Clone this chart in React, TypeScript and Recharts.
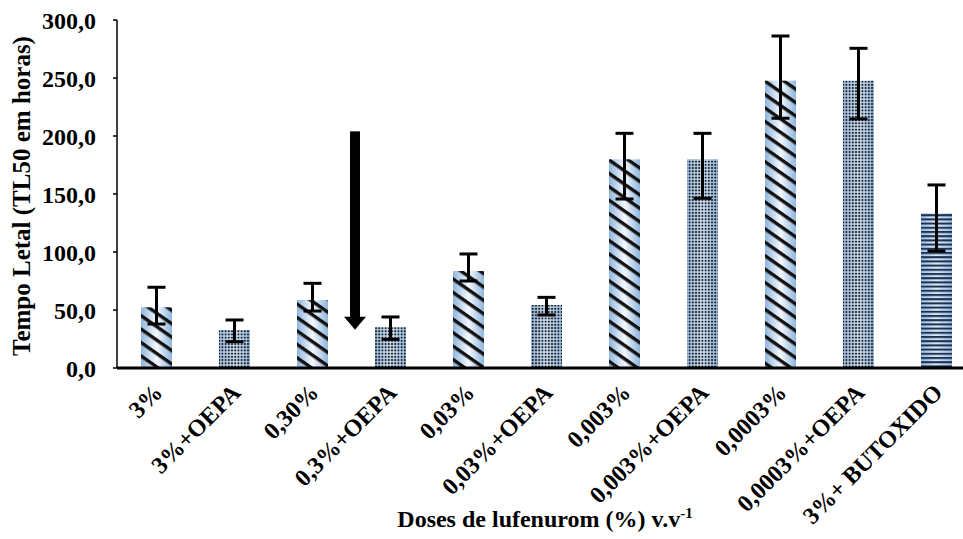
import {
  BarChart,
  Bar,
  XAxis,
  YAxis,
  ErrorBar,
  ReferenceLine,
} from "recharts";

// TL50 per dose, with lower / upper limits of the error bars
const doses = [
  "3%",
  "3%+OEPA",
  "0,30%",
  "0,3%+OEPA",
  "0,03%",
  "0,03%+OEPA",
  "0,003%",
  "0,003%+OEPA",
  "0,0003%",
  "0,0003%+OEPA",
  "3%+ BUTOXIDO",
];
const tl50 = [52.3, 32.8, 58.6, 35.1, 83.6, 54.3, 179.9, 179.9, 247.7, 247.7, 133.4];
const lower = [37.9, 22.7, 49.1, 24.7, 75.0, 45.7, 145.7, 146.3, 215.3, 214.7, 100.9];
const upper = [69.6, 41.4, 73.0, 44.0, 98.3, 60.9, 202.3, 202.3, 286.2, 275.6, 157.8];
const yTicks = [0, 50, 100, 150, 200, 250, 300];

// arrow annotation: drawn at the end of the "0,30%" band, from 204 down to 33 h
const arrowAfter = doses[2];
const arrowFrom = 204;
const arrowTo = 33;

// texture of each bar
const texture = [
  "stripe", "dot", "stripe", "dot", "stripe", "dot",
  "stripe", "dot", "stripe", "dot", "hline",
];

const data = doses.map((dose, i) => ({
  dose,
  tl50: tl50[i],
  err: [tl50[i] - lower[i], upper[i] - tl50[i]],
}));

const FONT = '"Liberation Serif", "Times New Roman", "DejaVu Serif", serif';
const txt = { fontFamily: FONT, fontWeight: 700 };

function TexturedBar(props: any) {
  const { x, y, width, height, index } = props;
  const kind = texture[index];
  const bg = kind === "stripe" ? "url(#bgStripe)" : kind === "dot" ? "url(#bgDot)" : "url(#bgLine)";
  return (
    <g>
      <rect x={x} y={y} width={width} height={height} fill={bg} />
      <rect x={x} y={y} width={width} height={height} fill={`url(#${kind})`} />
    </g>
  );
}

function DoseTick(props: any) {
  const { x, y, payload } = props;
  const ax = x + 8;
  const ay = y + 26;
  return (
    <text
      x={ax}
      y={ay}
      transform={`rotate(-45, ${ax}, ${ay})`}
      textAnchor="end"
      style={txt}
      fontSize={24}
      fill="#000"
    >
      {payload.value}
    </text>
  );
}

function Arrow(props: any) {
  const { x1, y1, y2 } = props;
  const cx = x1 + 4;
  const headBase = y2 - 13;
  return (
    <g>
      <rect x={cx - 5} y={y1} width={10} height={headBase - y1 + 1} fill="#000" />
      <polygon
        points={`${cx - 11},${headBase} ${cx + 11},${headBase} ${cx},${y2}`}
        fill="#000"
      />
    </g>
  );
}

export default function App() {
  return (
    <div
      style={{
        position: "absolute",
        left: 0,
        top: 0,
        width: 963,
        height: 539,
        overflow: "hidden",
        background: "#fff",
        fontFamily: FONT,
      }}
    >
      <BarChart
        width={990}
        height={539}
        data={data}
        margin={{ top: 20, right: 15, bottom: 0, left: 0 }}
        barSize={31}
        style={{ fontFamily: FONT }}
      >
        <defs>
          <linearGradient id="bgStripe" x1="0" y1="0" x2="1" y2="0">
            <stop offset="0" stopColor="#8fb6de" />
            <stop offset="0.5" stopColor="#f4f8fd" />
            <stop offset="1" stopColor="#8fb6de" />
          </linearGradient>
          <linearGradient id="bgDot" x1="0" y1="0" x2="1" y2="0">
            <stop offset="0" stopColor="#a3c2e3" />
            <stop offset="0.5" stopColor="#d6e5f4" />
            <stop offset="1" stopColor="#a3c2e3" />
          </linearGradient>
          <linearGradient id="bgLine" x1="0" y1="0" x2="1" y2="0">
            <stop offset="0" stopColor="#9dbfe2" />
            <stop offset="0.5" stopColor="#dce8f5" />
            <stop offset="1" stopColor="#9dbfe2" />
          </linearGradient>
          <pattern
            id="stripe"
            patternUnits="userSpaceOnUse"
            width="11"
            height="11"
            patternTransform="rotate(35)"
          >
            <rect x="0" y="0" width="11" height="3.4" fill="#111" />
          </pattern>
          <pattern id="dot" patternUnits="userSpaceOnUse" width="3.2" height="3.2">
            <circle cx="1.6" cy="1.6" r="1.1" fill="#17202c" />
          </pattern>
          <pattern id="hline" patternUnits="userSpaceOnUse" width="4" height="4.2">
            <rect x="0" y="0" width="4" height="2" fill="#1c3152" />
          </pattern>
        </defs>
        <XAxis
          xAxisId="cat"
          dataKey="dose"
          interval={0}
          tickSize={0}
          tickMargin={0}
          tickLine={false}
          axisLine={{ stroke: "#000", strokeWidth: 3 }}
          height={171}
          tick={<DoseTick />}
          label={{
            content: (p: any) => {
              const vb = p.viewBox;
              return (
                <text
                  x={vb.x + 428}
                  y={vb.y + 159}
                  textAnchor="middle"
                  style={txt}
                  fontSize={24}
                  fill="#000"
                >
                  Doses de lufenurom (%) v.v
                  <tspan dy={-9} fontSize={15}>
                    -1
                  </tspan>
                </text>
              );
            },
          }}
        />
        <YAxis
          width={117}
          domain={[0, 300]}
          ticks={yTicks}
          interval={0}
          tickSize={4}
          tickMargin={17}
          axisLine={{ stroke: "#000", strokeWidth: 1.5 }}
          tickLine={{ stroke: "#000", strokeWidth: 1.5 }}
          tick={{ style: txt, fontSize: 24, fill: "#000" }}
          tickFormatter={(v: number) => v.toFixed(1).replace(".", ",")}
          label={{
            content: (p: any) => {
              const vb = p.viewBox;
              const cx = 29.5;
              const cy = vb.y + vb.height / 2 + 2;
              return (
                <text
                  x={cx}
                  y={cy}
                  transform={`rotate(-90, ${cx}, ${cy})`}
                  textAnchor="middle"
                  style={txt}
                  fontSize={25}
                  fill="#000"
                >
                  Tempo Letal (TL50 em horas)
                </text>
              );
            },
          }}
        />
        <Bar
          xAxisId="cat"
          dataKey="tl50"
          shape={<TexturedBar />}
          isAnimationActive={false}
        >
          <ErrorBar
            dataKey="err"
            width={9}
            stroke="#000"
            strokeWidth={3}
            isAnimationActive={false}
          />
        </Bar>
        <ReferenceLine
          xAxisId="cat"
          position="end"
          segment={[
            { x: arrowAfter, y: arrowFrom },
            { x: arrowAfter, y: arrowTo },
          ]}
          shape={(p: any) => <Arrow {...p} />}
        />
      </BarChart>
    </div>
  );
}
